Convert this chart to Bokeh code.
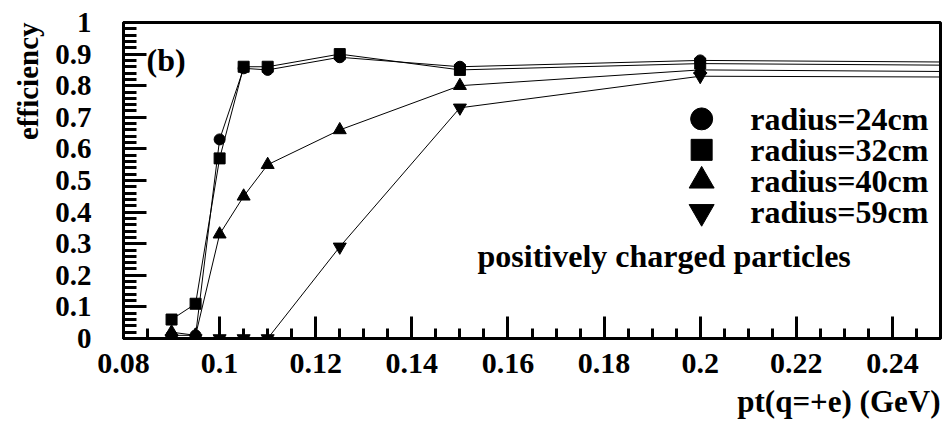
import math
from bokeh.plotting import figure
from bokeh.models import Range1d, SingleIntervalTicker, PrintfTickFormatter, Label, Title
from bokeh.embed import file_html
from bokeh.resources import INLINE

# ---- data ----
pt = [0.09, 0.095, 0.10, 0.105, 0.11, 0.125, 0.15, 0.20, 0.30]
eff_r24 = [0.01, 0.01, 0.63, 0.855, 0.85, 0.89, 0.86, 0.88, 0.87]
eff_r32 = [0.06, 0.11, 0.57, 0.86, 0.86, 0.90, 0.85, 0.87, 0.86]
eff_r40 = [0.02, 0.01, 0.33, 0.45, 0.55, 0.66, 0.80, 0.85, 0.84]
eff_r59 = [0.0, 0.0, 0.0, 0.0, 0.0, 0.29, 0.73, 0.83, 0.825]
series_labels = ["radius=24cm", "radius=32cm", "radius=40cm", "radius=59cm"]
x_title = "pt(q=+e) (GeV)"
y_title = "efficiency"
panel_tag = "(b)"
note = "positively charged particles"

FONT = "Liberation Serif"

p = figure(width=945, height=426, output_backend="svg", toolbar_location=None,
           x_range=Range1d(0.08, 0.25), y_range=Range1d(0.0, 1.0),
           min_border_left=120, min_border_right=5, min_border_top=22, min_border_bottom=88)
p.background_fill_color = "white"
p.border_fill_color = "white"
p.xgrid.grid_line_color = None
p.ygrid.grid_line_color = None
p.outline_line_color = "black"
p.outline_line_width = 3

xa = p.xaxis[0]
xa.ticker = SingleIntervalTicker(interval=0.02, num_minor_ticks=4)
ya = p.yaxis[0]
ya.ticker = SingleIntervalTicker(interval=0.1, num_minor_ticks=5)
for ax in (xa, ya):
    ax.formatter = PrintfTickFormatter(format="%.3g")
    ax.axis_line_width = 3
    ax.axis_line_color = "black"
    ax.major_tick_out = 0
    ax.minor_tick_out = 0
    ax.major_tick_line_width = 3
    ax.minor_tick_line_width = 3
    ax.major_label_text_font = FONT
    ax.major_label_text_font_style = "bold"
    ax.major_label_text_color = "black"
xa.major_label_text_font_size = "30px"
ya.major_label_text_font_size = "29px"
xa.major_tick_in = 22
xa.minor_tick_in = 10
xa.major_label_standoff = 15
ya.major_tick_in = 23
ya.minor_tick_in = 13
ya.major_label_standoff = 32

markers = ["circle", "square", "triangle", "inverted_triangle"]
sizes = [11, 11, 13, 13]
for ys, m, s in zip([eff_r24, eff_r32, eff_r40, eff_r59], markers, sizes):
    p.line(pt, ys, line_color="black", line_width=1)
    p.scatter(pt, ys, marker=m, size=s, fill_color="black", line_color="black")

# ---- legend (manual, layout constants) ----
LEG_MX = 0.2003
LEG_TX = 0.2104
LEG_Y0 = 0.695
LEG_DY = 0.098
leg_sizes = [22, 21, 25, 25]
for i, (lab, m, s) in enumerate(zip(series_labels, markers, leg_sizes)):
    yy = LEG_Y0 - i * LEG_DY
    p.scatter([LEG_MX], [yy], marker=m, size=s, fill_color="black", line_color="black")
    p.add_layout(Label(x=LEG_TX, y=yy, text=lab, text_font=FONT, text_font_style="bold",
                       text_font_size="32px", text_baseline="middle", text_align="left",
                       text_color="black"))

p.add_layout(Label(x=0.0848, y=0.882, text=panel_tag, text_font=FONT, text_font_style="bold",
                   text_font_size="32px", text_baseline="middle", text_align="left",
                   text_color="black"))
p.add_layout(Label(x=0.1925, y=0.26, text=note, text_font=FONT, text_font_style="bold",
                   text_font_size="32px", text_baseline="middle", text_align="center",
                   text_color="black"))

p.add_layout(Title(text=x_title, align="right", text_font=FONT, text_font_style="bold",
                   text_font_size="31px", text_color="black", standoff=13), "below")
p.add_layout(Title(text=y_title, align="right", text_font=FONT, text_font_style="bold",
                   text_font_size="29px", text_color="black", standoff=18), "left")

open("out.html", "w").write(file_html(p, INLINE))
